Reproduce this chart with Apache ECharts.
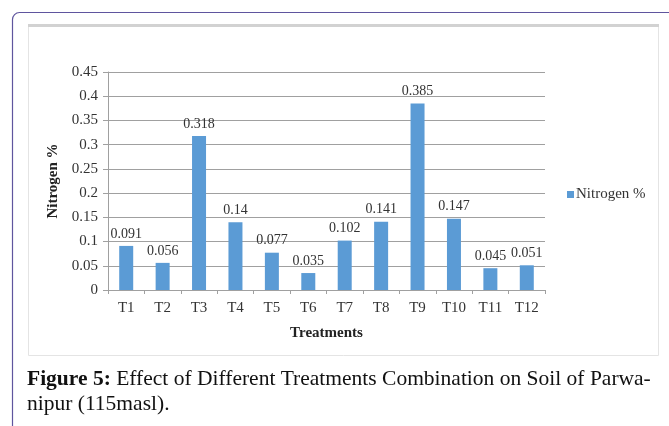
<!DOCTYPE html>
<html>
<head>
<meta charset="utf-8">
<script src="https://cdn.jsdelivr.net/npm/echarts@6/dist/echarts.min.js"></script>
<style>
  html, body { margin: 0; padding: 0; background: #fff; }
  #chart { width: 669px; height: 426px; }
</style>
</head>
<body>
<div id="chart"></div>
<script>
// Soil nitrogen (%) per treatment
const treatments = ['T1', 'T2', 'T3', 'T4', 'T5', 'T6', 'T7', 'T8', 'T9', 'T10', 'T11', 'T12'];
const nitrogen = [0.091, 0.056, 0.318, 0.14, 0.077, 0.035, 0.102, 0.141, 0.385, 0.147, 0.045, 0.051];
const yTicks = { min: 0, max: 0.45, step: 0.05 };
const seriesName = 'Nitrogen %';

const serif = '"Liberation Serif", "Times New Roman", serif';
const chart = echarts.init(document.getElementById('chart'), null, { renderer: 'canvas' });

chart.setOption({
  animation: false,
  backgroundColor: '#fff',
  textStyle: { fontFamily: serif },
  grid: { left: 108, top: 72, width: 437, height: 218, containLabel: false },
  legend: {
    data: [seriesName],
    left: 562, top: 182,
    itemWidth: 7, itemHeight: 7, itemGap: 4,
    icon: 'rect',
    textStyle: { fontFamily: serif, fontSize: 15, color: '#333', padding: [0, 0, 0, -3] }
  },
  xAxis: {
    type: 'category',
    data: treatments,
    name: 'Treatments',
    nameLocation: 'middle',
    nameGap: 36,
    nameTextStyle: { fontFamily: serif, fontSize: 15, fontWeight: 'bold', color: '#222' },
    axisLine: { lineStyle: { color: '#a0a0a0', width: 1 } },
    axisTick: { show: true, length: 4, lineStyle: { color: '#a0a0a0' } },
    axisLabel: { fontFamily: serif, fontSize: 15, color: '#333', margin: 11 }
  },
  yAxis: {
    type: 'value',
    min: yTicks.min, max: yTicks.max, interval: yTicks.step,
    name: seriesName,
    nameLocation: 'middle',
    nameGap: 44,
    nameTextStyle: { fontFamily: serif, fontSize: 15, fontWeight: 'bold', color: '#222' },
    axisLine: { show: true, lineStyle: { color: '#a0a0a0', width: 1 } },
    axisTick: { show: true, length: 5, lineStyle: { color: '#a0a0a0' } },
    axisLabel: {
      fontFamily: serif, fontSize: 15, color: '#333', margin: 10,
      formatter: v => String(+v.toFixed(2))
    },
    splitLine: { lineStyle: { color: '#a0a0a0', width: 1 } }
  },
  series: [{
    name: seriesName,
    type: 'bar',
    data: nitrogen,
    barWidth: 14,
    itemStyle: { color: '#5b9bd5' },
    label: {
      show: true, position: 'top', distance: 5,
      fontFamily: serif, fontSize: 14, color: '#333',
      formatter: p => String(p.value)
    }
  }],
  graphic: [
    // page frame
    {
      type: 'rect', z: -10, silent: true,
      shape: { x: 12.5, y: 12.5, width: 720, height: 500, r: [7, 0, 0, 0] },
      style: { fill: '#fff', stroke: '#5f559e', lineWidth: 1.2 }
    },
    // chart panel
    {
      type: 'rect', z: -9, silent: true,
      shape: { x: 28.5, y: 25.5, width: 630, height: 330 },
      style: { fill: '#fff', stroke: '#e4e4e4', lineWidth: 1 }
    },
    {
      type: 'rect', z: -8, silent: true,
      shape: { x: 28, y: 24, width: 631, height: 3 },
      style: { fill: '#d2d2d2' }
    },
    // figure caption
    {
      type: 'text', left: 27, top: 368,
      style: {
        text: '{b|Figure 5:} Effect of Different Treatments Combination on Soil of Parwa-',
        font: '21.5px ' + serif,
        fill: '#111',
        rich: { b: { font: 'bold 21.5px ' + serif, fill: '#111' } }
      }
    },
    {
      type: 'text', left: 27, top: 393,
      style: { text: 'nipur (115masl).', font: '21.5px ' + serif, fill: '#111' }
    }
  ]
});
</script>
</body>
</html>
